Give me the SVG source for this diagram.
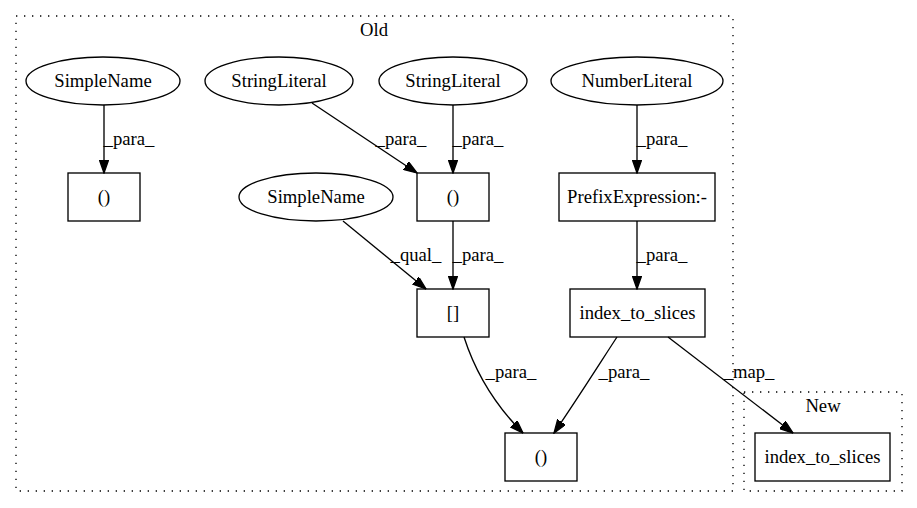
<svg xmlns="http://www.w3.org/2000/svg" width="917" height="508" viewBox="0 0 917 508">
<style>
text{font-family:"Liberation Serif","Times New Roman",serif;font-size:18.67px;fill:#000;text-anchor:middle}
.node ellipse,.node rect{fill:none;stroke:#000;stroke-width:1.33}
.cluster{fill:none;stroke:#000;stroke-width:1.33;stroke-dasharray:1.33,6.67}
.edge{fill:none;stroke:#000;stroke-width:1.33;marker-end:url(#arr)}
</style>
<defs>
<marker id="arr" markerUnits="userSpaceOnUse" markerWidth="14" markerHeight="10" refX="13.3" refY="4.67" orient="auto" viewBox="0 0 14 10">
<path d="M0,0 L13.3,4.67 L0,9.33 z" fill="#000" stroke="#000" stroke-width="1.33"/>
</marker>
</defs>
<rect width="917" height="508" fill="#fff"/>
<g id="cluster_old">
<rect class="cluster" x="16" y="16" width="717" height="475"/>
<text x="374" y="36">Old</text>
</g>
<g id="cluster_new">
<rect class="cluster" x="744" y="392" width="158" height="99"/>
<text x="823" y="412">New</text>
</g>
<g id="edges">
<path class="edge" d="M104,105 L104,173"/>
<text x="129" y="145">_para_</text>
<path class="edge" d="M312,103 L417,173"/>
<text x="401" y="145">_para_</text>
<path class="edge" d="M453,105 L453,173"/>
<text x="478" y="145">_para_</text>
<path class="edge" d="M637,105 L637,173"/>
<text x="662" y="145">_para_</text>
<path class="edge" d="M343,221 L426,289"/>
<text x="416" y="261">_qual_</text>
<path class="edge" d="M453,221 L453,289"/>
<text x="478" y="261">_para_</text>
<path class="edge" d="M637,221 L637,289"/>
<text x="662" y="261">_para_</text>
<path class="edge" d="M464,337 C474,368 490,400 523,433"/>
<text x="511" y="378">_para_</text>
<path class="edge" d="M617,337 C600,363 578,398 554,433"/>
<text x="624" y="378">_para_</text>
<path class="edge" d="M668,337 L793,433"/>
<text x="749" y="378">_map_</text>
</g>
<g id="n_simplename1" class="node"><ellipse cx="103" cy="81" rx="77" ry="24"/><text x="103" y="87">SimpleName</text></g>
<g id="n_stringliteral1" class="node"><ellipse cx="279" cy="81" rx="74" ry="24"/><text x="279" y="87">StringLiteral</text></g>
<g id="n_stringliteral2" class="node"><ellipse cx="453" cy="81" rx="74" ry="24"/><text x="453" y="87">StringLiteral</text></g>
<g id="n_numberliteral" class="node"><ellipse cx="637" cy="81" rx="86" ry="24"/><text x="637" y="87">NumberLiteral</text></g>
<g id="n_call1" class="node"><rect x="68" y="173" width="72" height="48"/><text x="104" y="203">()</text></g>
<g id="n_simplename2" class="node"><ellipse cx="316" cy="197" rx="77" ry="24"/><text x="316" y="203">SimpleName</text></g>
<g id="n_call2" class="node"><rect x="417" y="173" width="72" height="48"/><text x="453" y="203">()</text></g>
<g id="n_prefix" class="node"><rect x="559" y="173" width="156" height="48"/><text x="637" y="203">PrefixExpression:-</text></g>
<g id="n_index" class="node"><rect x="417" y="289" width="72" height="48"/><text x="453" y="319">[]</text></g>
<g id="n_its_old" class="node"><rect x="570" y="289" width="135" height="48"/><text x="637.5" y="319">index_to_slices</text></g>
<g id="n_call3" class="node"><rect x="505" y="433" width="72" height="48"/><text x="541" y="463">()</text></g>
<g id="n_its_new" class="node"><rect x="755" y="433" width="135" height="48"/><text x="822.5" y="463">index_to_slices</text></g>
</svg>
